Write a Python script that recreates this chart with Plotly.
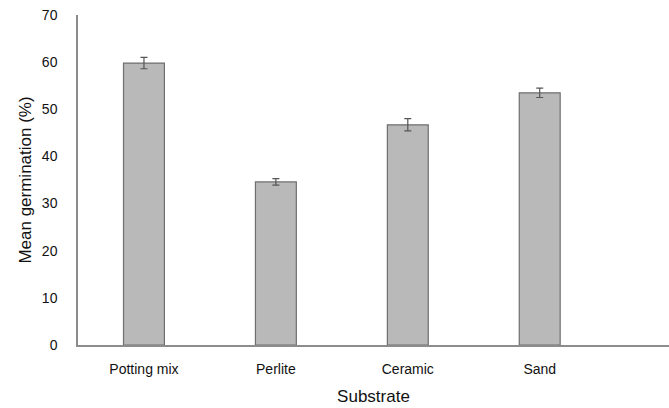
import plotly.graph_objects as go

# Germination by substrate (mean ± error)
substrates = ["Potting mix", "Perlite", "Ceramic", "Sand"]
mean_germination = [59.8, 34.6, 46.7, 53.5]
error = [1.2, 0.7, 1.3, 1.0]
y_ticks = [0, 10, 20, 30, 40, 50, 60, 70]

fig = go.Figure()
fig.add_trace(go.Bar(
    x=substrates,
    y=mean_germination,
    width=0.31,
    marker=dict(color="#b9b9b9", line=dict(color="#6f6f6f", width=1.2)),
    error_y=dict(type="data", array=error, visible=True,
                 color="#555555", thickness=1.2, width=3.5),
))

font_family = "Liberation Sans, Arial, sans-serif"
fig.update_layout(
    width=669, height=408,
    margin=dict(l=78, r=0, t=15, b=63),
    plot_bgcolor="white", paper_bgcolor="white",
    showlegend=False,
    font=dict(family=font_family, color="#111111"),
    xaxis=dict(
        range=[-0.5, 3.98],
        showline=True, linecolor="#8c8c8c", linewidth=1.5,
        ticks="", ticklabelstandoff=10,
        tickfont=dict(size=14),
        title=dict(text="Substrate", font=dict(size=17), standoff=15),
    ),
    yaxis=dict(
        range=[0, 70], tickvals=y_ticks,
        showline=True, linecolor="#8c8c8c", linewidth=1.5,
        showgrid=False, zeroline=False,
        ticks="", ticklabelstandoff=16,
        tickfont=dict(size=14),
        title=dict(text="Mean germination (%)", font=dict(size=17), standoff=6),
    ),
)

fig.write_html("out.html")
